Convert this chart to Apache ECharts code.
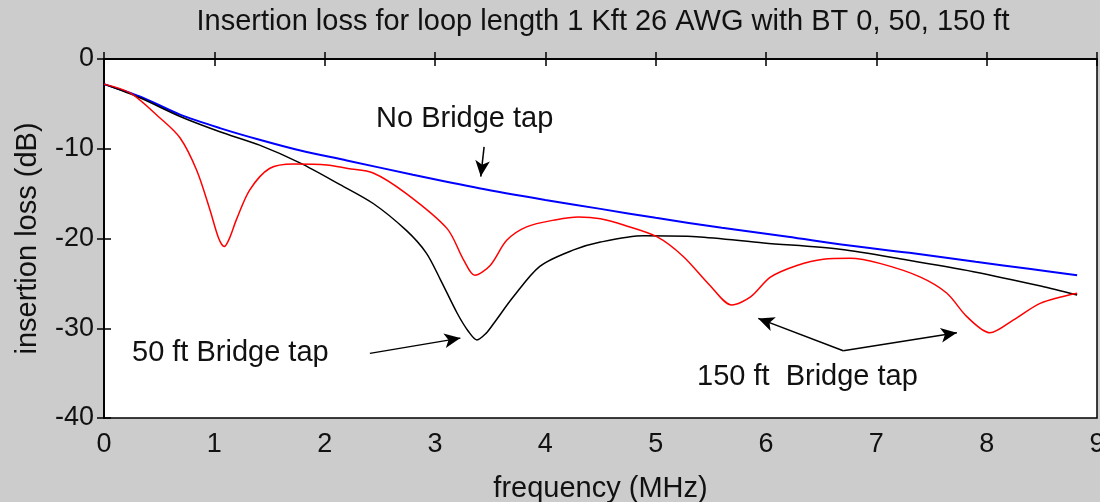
<!DOCTYPE html>
<html>
<head>
<meta charset="utf-8">
<script src="https://cdn.jsdelivr.net/npm/echarts@6/dist/echarts.min.js"></script>
<style>
  html, body { margin: 0; padding: 0; background: #cccccc; overflow: hidden; }
  #chart { width: 1100px; height: 502px; }
</style>
</head>
<body>
<div id="chart"></div>
<script>
// frequency (MHz) and insertion loss (dB)
const noTapFreq = [0, 0.33, 0.69, 1.05, 1.41, 1.78, 2.2, 2.8, 3.4, 4.0, 4.5, 5.0, 5.6, 6.2, 6.7, 7.3, 7.9, 8.4, 8.82]
const noTapLoss = [-2.8, -4.2, -6.2, -7.7, -9.0, -10.2, -11.3, -12.9, -14.4, -15.7, -16.7, -17.7, -18.8, -19.8, -20.7, -21.6, -22.6, -23.4, -24.1]

const bt50Freq = [0, 0.33, 0.69, 1.05, 1.41, 1.78, 2.14, 2.44, 2.74, 2.92, 3.05, 3.2, 3.3, 3.38, 3.46, 3.53, 3.71, 3.95, 4.25, 4.5, 4.89, 5.37, 5.98, 6.67, 7.28, 7.88, 8.49, 8.82]
const bt50Loss = [-2.8, -4.35, -6.4, -8.1, -9.6, -11.6, -14.0, -16.1, -19.1, -21.6, -24.6, -28.3, -30.3, -31.3, -30.6, -29.5, -26.5, -23.1, -21.3, -20.4, -19.7, -19.8, -20.5, -21.2, -22.4, -23.7, -25.3, -26.3]

const bt150Freq = [0, 0.24, 0.51, 0.69, 0.84, 0.96, 1.04, 1.09, 1.14, 1.2, 1.32, 1.5, 1.72, 2.02, 2.21, 2.44, 2.74, 3.11, 3.26, 3.36, 3.5, 3.65, 3.83, 4.1, 4.3, 4.5, 4.71, 5.01, 5.25, 5.49, 5.69, 5.86, 6.04, 6.28, 6.52, 6.76, 7.04, 7.4, 7.64, 7.82, 8.03, 8.24, 8.49, 8.82]
const bt150Loss = [-2.8, -3.8, -6.6, -8.8, -12.4, -16.8, -20.0, -20.9, -19.9, -17.9, -14.6, -12.2, -11.7, -11.8, -12.2, -12.7, -15.0, -18.9, -22.4, -24.1, -23.0, -20.2, -18.7, -17.9, -17.6, -17.8, -18.5, -19.8, -22.0, -25.2, -27.4, -26.5, -24.3, -23.0, -22.3, -22.2, -22.8, -24.3, -26.1, -28.7, -30.5, -29.1, -27.2, -26.1]

const xTicks = { min: 0, max: 9, interval: 1 }
const yTicks = { min: -40, max: 0, interval: 10 }

const FONT = "'Liberation Sans', Arial, sans-serif"

const pairs = (xs, ys) => xs.map((x, i) => [x, ys[i]])

// annotation arrows, in data coordinates [from, to]
const arrows = [
  [[3.445, -9.8], [3.415, -13.1]],
  [[2.41, -32.8], [3.23, -31.1]],
  [[6.70, -32.5], [5.93, -28.9]],
  [[6.70, -32.5], [7.73, -30.5]]
]

const axisCommon = {
  type: 'value',
  axisLine: { show: true, lineStyle: { color: '#000', width: 1.5 } },
  axisTick: { show: true, inside: true, length: 7, lineStyle: { color: '#000', width: 1.5 } },
  splitLine: { show: false }
}

const myChart = echarts.init(document.getElementById('chart'))

const option = {
  animation: false,
  backgroundColor: '#cccccc',
  title: {
    text: 'Insertion loss for loop length 1 Kft 26 AWG with BT 0, 50, 150 ft',
    left: 598,
    textAlign: 'center',
    top: 2,
    textStyle: { fontFamily: FONT, fontSize: 29, fontWeight: 'normal', color: '#111' }
  },
  grid: {
    left: 104, right: 3, top: 59, bottom: 84,
    outerBoundsMode: 'none',
    containLabel: false,
    show: true, backgroundColor: '#ffffff', borderColor: '#000', borderWidth: 1.5
  },
  xAxis: [
    Object.assign({}, axisCommon, xTicks, {
      position: 'bottom',
      name: 'frequency (MHz)',
      nameLocation: 'middle',
      nameGap: 56,
      nameTextStyle: { fontFamily: FONT, fontSize: 29, color: '#111' },
      axisLabel: { fontFamily: FONT, fontSize: 27, color: '#111', margin: 13 }
    }),
    Object.assign({}, axisCommon, xTicks, { position: 'top', axisLabel: { show: false } })
  ],
  yAxis: [
    Object.assign({}, axisCommon, yTicks, {
      position: 'left',
      name: 'insertion loss (dB)',
      nameLocation: 'middle',
      nameGap: 62,
      nameTextStyle: { fontFamily: FONT, fontSize: 29, color: '#111' },
      axisLabel: { fontFamily: FONT, fontSize: 27, color: '#111', margin: 10 }
    }),
    Object.assign({}, axisCommon, yTicks, { position: 'right', axisLabel: { show: false } })
  ],
  series: [
    {
      name: 'No Bridge tap',
      type: 'line',
      data: pairs(noTapFreq, noTapLoss),
      showSymbol: false,
      smooth: 0.3,
      lineStyle: { color: '#0000ff', width: 2 },
      markLine: {
        silent: true,
        symbol: ['none', 'arrow'],
        symbolSize: [11, 16],
        label: { show: false },
        lineStyle: { color: '#000', width: 1.5, type: 'solid' },
        data: arrows.map(a => [{ coord: a[0] }, { coord: a[1] }])
      }
    },
    {
      name: '50 ft Bridge tap',
      type: 'line',
      data: pairs(bt50Freq, bt50Loss),
      showSymbol: false,
      smooth: 0.3,
      lineStyle: { color: '#000000', width: 1.5 }
    },
    {
      name: '150 ft Bridge tap',
      type: 'line',
      data: pairs(bt150Freq, bt150Loss),
      showSymbol: false,
      smooth: 0.3,
      lineStyle: { color: '#ff0000', width: 1.5 }
    }
  ],
  graphic: [
    { type: 'text', left: 376, top: 104, style: { text: 'No Bridge tap', font: '29px ' + FONT, fill: '#111' } },
    { type: 'text', left: 132, top: 338, style: { text: '50 ft Bridge tap', font: '29px ' + FONT, fill: '#111' } },
    { type: 'text', left: 697, top: 362, style: { text: '150 ft  Bridge tap', font: '29px ' + FONT, fill: '#111' } }
  ]
}

myChart.setOption(option)

window.addEventListener('resize', () => {
  myChart.resize()
})
</script>
</body>
</html>
